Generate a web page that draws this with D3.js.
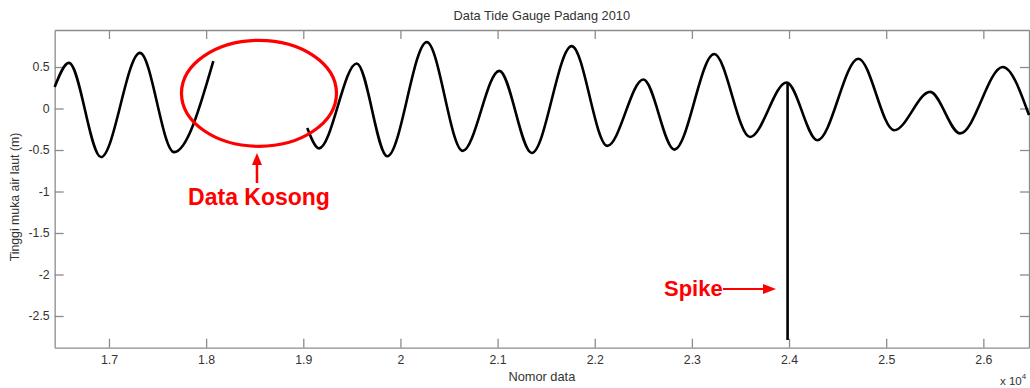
<!DOCTYPE html>
<html>
<head>
<meta charset="utf-8">
<script src="https://cdn.jsdelivr.net/npm/d3@7"></script>
<style>
body { margin: 0; background: #fff; }
text { font-family: Arial, "Liberation Sans", sans-serif; }
</style>
</head>
<body>
<svg width="1030" height="388"></svg>
<script>

// tide record (index, metres)
var seg1Index = [16441, 16588, 16918, 17319, 17669, 18074];
var seg1Level = [0.26, 0.55, -0.585, 0.67, -0.525, 0.57];

var seg2Index = [19041, 19162, 19550, 19865, 20271, 20641, 21018, 21352, 21763, 22130,
                 22501, 22820, 23229, 23599, 23975, 24292, 24714, 25082, 25452, 25761,
                 26201, 26470];
var seg2Level = [-0.234, -0.48, 0.543, -0.576, 0.80, -0.51, 0.454, -0.536, 0.752, -0.45,
                 0.35, -0.495, 0.656, -0.343, 0.314, -0.383, 0.60, -0.262, 0.20, -0.30,
                 0.50, -0.08];

var spikeIndex = 23985;
var spikeTop = 0.31;
var spikeBottom = -2.79;

var xTicks = [17000, 18000, 19000, 20000, 21000, 22000, 23000, 24000, 25000, 26000];
var yTicks = [-2.5, -2, -1.5, -1, -0.5, 0, 0.5];

var svg = d3.select('svg');

var plotLeft = 54.67, plotRight = 1029, plotTop = 30, plotBottom = 347.7;

var scaleX = d3.scaleLinear().domain([16441, 26470]).range([plotLeft, plotRight]);
var scaleY = d3.scaleLinear().domain([-2.882, 0.946]).range([plotBottom, plotTop]);

var axisColor = "#8c8c8c";
var textColor = "#333";

// axes: ticks point inward, like matlab
svg.append("g")
    .attr("transform", "translate(0," + plotBottom + ")")
    .call(d3.axisBottom(scaleX).tickValues(xTicks).tickSizeInner(-9).tickSizeOuter(0)
        .tickPadding(8).tickFormat(function(d){ return String(d / 10000); }));

svg.append("g")
    .attr("transform", "translate(0," + plotTop + ")")
    .call(d3.axisTop(scaleX).tickValues(xTicks).tickSizeInner(-9).tickSizeOuter(0)
        .tickFormat(""));

svg.append("g")
    .attr("transform", "translate(" + plotLeft + ",0)")
    .call(d3.axisLeft(scaleY).tickValues(yTicks).tickSizeInner(-9).tickSizeOuter(0)
        .tickPadding(5).tickFormat(function(d){ return String(d); }));

svg.append("g")
    .attr("transform", "translate(" + plotRight + ",0)")
    .call(d3.axisRight(scaleY).tickValues(yTicks).tickSizeInner(-9).tickSizeOuter(0)
        .tickFormat(""));

svg.selectAll(".domain").attr("stroke", axisColor).attr("stroke-width", 1.3);
svg.selectAll(".tick line").attr("stroke", axisColor).attr("stroke-width", 1.3);
svg.selectAll(".tick text").attr("fill", textColor).attr("font-size", 12.3)
    .attr("font-family", "Arial, 'Liberation Sans', sans-serif");

// tide line
var line = d3.line()
    .x(function(d){ return scaleX(d.x); })
    .y(function(d){ return scaleY(d.y); })
    .curve(d3.curveMonotoneX);

var seg1 = seg1Index.map(function(v, i){ return {x: v, y: seg1Level[i]}; });
var seg2 = seg2Index.map(function(v, i){ return {x: v, y: seg2Level[i]}; });

svg.selectAll('.tide')
    .data([seg1, seg2])
    .enter()
    .append('path')
    .attr('class', 'tide')
    .attr('d', line)
    .attr('fill', 'none')
    .attr('stroke', '#000')
    .attr('stroke-width', 2.6)
    .attr('stroke-linejoin', 'round');

svg.append('line')
    .attr('x1', scaleX(spikeIndex)).attr('x2', scaleX(spikeIndex))
    .attr('y1', scaleY(spikeTop)).attr('y2', scaleY(spikeBottom))
    .attr('stroke', '#000')
    .attr('stroke-width', 2.6);

// titles
svg.append('text')
    .attr('x', (plotLeft + plotRight) / 2).attr('y', 20)
    .attr('text-anchor', 'middle').attr('font-size', 12.8).attr('fill', textColor)
    .text('Data Tide Gauge Padang 2010');

svg.append('text')
    .attr('x', (plotLeft + plotRight) / 2).attr('y', 381)
    .attr('text-anchor', 'middle').attr('font-size', 12.8).attr('fill', textColor)
    .text('Nomor data');

svg.append('text')
    .attr('transform', 'translate(19,197) rotate(-90)')
    .attr('text-anchor', 'middle').attr('font-size', 12.3).attr('fill', textColor)
    .text('Tinggi muka air laut (m)');

var mult = svg.append('text')
    .attr('x', 1000).attr('y', 385)
    .attr('font-size', 11.5).attr('fill', textColor)
    .text('x 10');
mult.append('tspan').attr('dy', -6).attr('font-size', 8).text('4');

// annotations
var red = '#ff0000';
var gapX = scaleX(18544), gapY = scaleY(0.183);

svg.append('ellipse')
    .attr('cx', gapX).attr('cy', gapY)
    .attr('rx', 77.5).attr('ry', 53)
    .attr('fill', 'none').attr('stroke', red).attr('stroke-width', 3.2);

svg.append('line')
    .attr('x1', gapX - 2).attr('x2', gapX - 2)
    .attr('y1', 183).attr('y2', 160)
    .attr('stroke', red).attr('stroke-width', 2.5);
svg.append('path')
    .attr('d', 'M' + (gapX - 2) + ',153 l-5,12 l10,0 z')
    .attr('fill', red);

svg.append('text')
    .attr('x', 259).attr('y', 205)
    .attr('text-anchor', 'middle').attr('font-size', 23).attr('font-weight', 'bold')
    .attr('fill', red)
    .text('Data Kosong');

svg.append('text')
    .attr('x', 664).attr('y', 296)
    .attr('font-size', 22).attr('font-weight', 'bold')
    .attr('fill', red)
    .text('Spike');

svg.append('line')
    .attr('x1', 723).attr('x2', 765)
    .attr('y1', 289).attr('y2', 289)
    .attr('stroke', red).attr('stroke-width', 2.2);
svg.append('path')
    .attr('d', 'M776,289 l-13,-5 l0,10 z')
    .attr('fill', red);

</script>
</body>
</html>
